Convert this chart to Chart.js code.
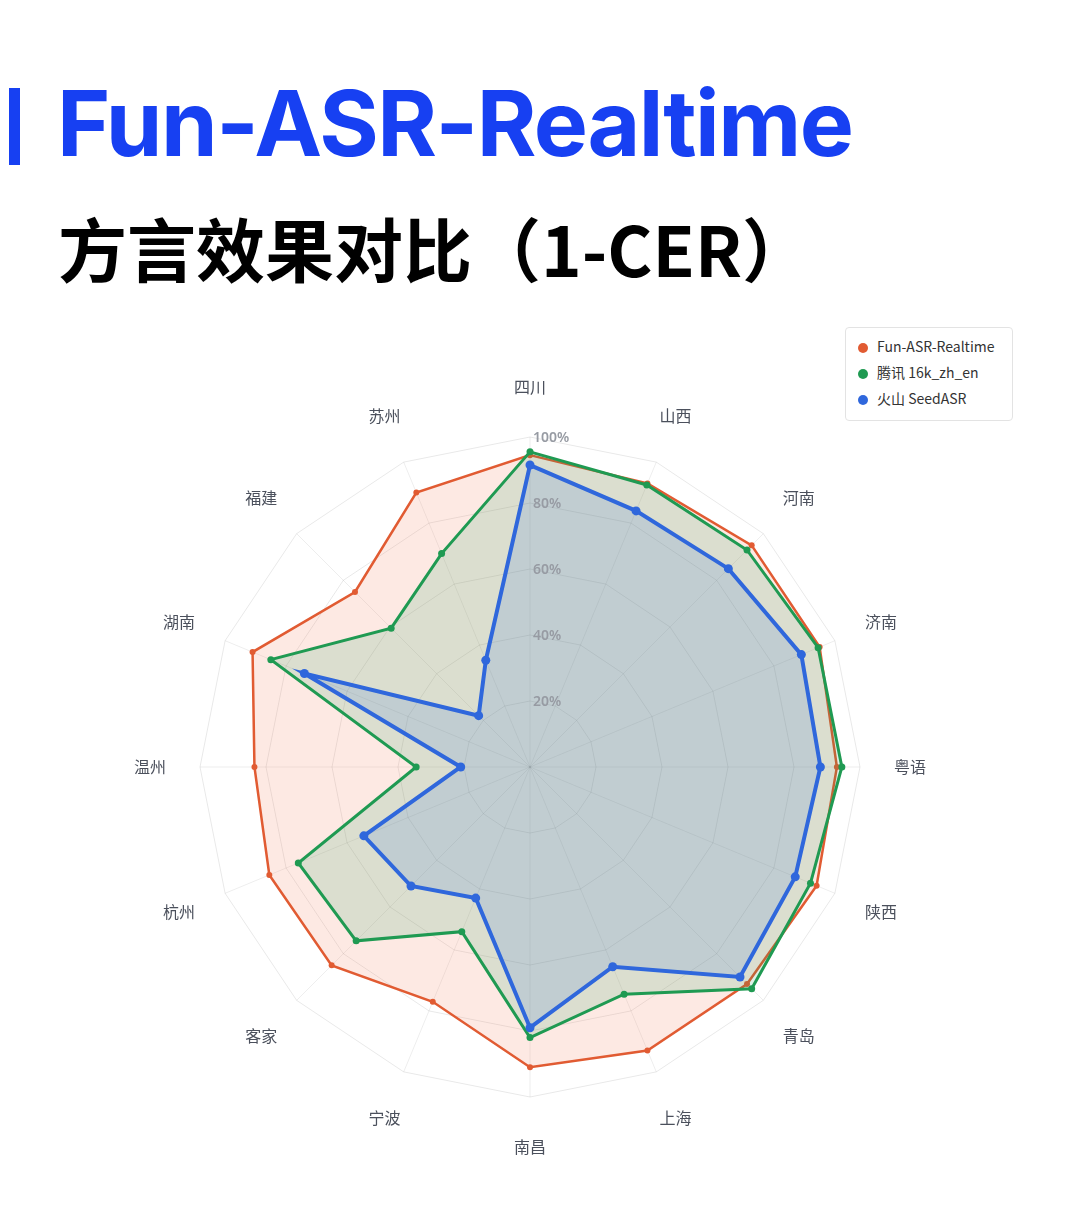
<!DOCTYPE html>
<html>
<head>
<meta charset="utf-8">
<script src="https://cdn.jsdelivr.net/npm/chart.js@4.4.1/dist/chart.umd.min.js"></script>
<style>
  html, body { margin: 0; padding: 0; background: #fff; }
  body { width: 1080px; height: 1224px; position: relative; overflow: hidden; }
  .bar { position: absolute; left: 9px; top: 88px; width: 11px; height: 77px; background: #1740f2; }
  h1 {
    position: absolute; left: 57px; top: 68px; margin: 0;
    font: 700 91px "Inter", "Liberation Sans", sans-serif; letter-spacing: -1.5px;
    color: #1740f2; white-space: nowrap;
  }
  h2 {
    position: absolute; left: 58px; top: 197px; margin: 0;
    font: 700 69px "Noto Sans CJK SC", sans-serif; color: #000; white-space: nowrap;
  }
  #wrap { position: absolute; left: 0; top: 0; width: 1080px; height: 1224px; }
  .legend {
    position: absolute; left: 845px; top: 327px; width: 168px; height: 94px;
    border: 1px solid #e3e3e3; border-radius: 4px; background: #fff; box-sizing: border-box;
    padding-top: 8px;
  }
  .legend div { height: 26px; line-height: 26px; font: 14px "Noto Sans CJK SC", "Noto Sans", sans-serif; color: #333; white-space: nowrap; }
  .legend span { display: inline-block; width: 10px; height: 10px; border-radius: 50%; margin: 0 9px 0 12px; vertical-align: -1px; }
</style>
</head>
<body>
<div class="bar"></div>
<h1>Fun-ASR-Realtime</h1>
<h2>方言效果对比（1-CER）</h2>
<div id="wrap"><canvas id="radar"></canvas></div>
<div class="legend" id="legend"></div>
<script>
// 方言区域（顺时针，从正上方开始）
const regions = ["四川", "山西", "河南", "济南", "粤语", "陕西", "青岛", "上海",
                 "南昌", "宁波", "客家", "杭州", "温州", "湖南", "福建", "苏州"];

const seriesNames = ["Fun-ASR-Realtime", "腾讯 16k_zh_en", "火山 SeedASR"];

// 1-CER (%)
const funAsr  = [94.5, 93, 95, 95, 93, 94, 93, 93, 91, 77, 85, 85.5, 83.5, 91, 75, 90];
const tencent = [95.5, 92.5, 93, 94.5, 94.5, 92, 95, 74.5, 82, 54, 74.5, 76, 34.5, 85, 59.5, 70];
const seed    = [91.5, 84, 85, 89, 88, 87, 90, 65.5, 79, 43, 51, 54.5, 21, 74, 22, 35];

const tickValues = [20, 40, 60, 80, 100];

const COLORS = {
    orange: "#e15b32",
    green: "#1f9a52",
    blue: "#2f67dc"
};

const labelPlugin = {
    id: "radarText",
    afterDatasetsDraw(chart) {
        const r = chart.scales.r;
        const ctx = chart.ctx;
        ctx.save();
        ctx.textAlign = "center";
        ctx.textBaseline = "middle";
        ctx.font = '16px "Noto Sans CJK SC"';
        ctx.fillStyle = "#4b505c";
        regions.forEach((name, i) => {
            const p = r.getPointPosition(i, r.drawingArea + 50);
            ctx.fillText(name, p.x, p.y);
        });
        ctx.textAlign = "left";
        ctx.font = '600 14px "Noto Sans", sans-serif';
        ctx.fillStyle = "#979ba3";
        tickValues.forEach(v => {
            const d = r.getDistanceFromCenterForValue(v);
            ctx.fillText(v + "%", r.xCenter + 3, r.yCenter - d + 1);
        });
        ctx.restore();
    }
};

const ctx = document.getElementById("radar").getContext("2d");

new Chart(ctx, {
    type: "radar",
    data: {
        labels: regions,
        datasets: [
            {
                label: seriesNames[0], data: funAsr, order: 3,
                borderColor: COLORS.orange, backgroundColor: "rgba(240,110,70,0.15)",
                borderWidth: 2.5, pointRadius: 3, pointBackgroundColor: COLORS.orange,
                pointBorderWidth: 0, fill: true
            },
            {
                label: seriesNames[1], data: tencent, order: 2,
                borderColor: COLORS.green, backgroundColor: "rgba(30,160,95,0.15)",
                borderWidth: 3, pointRadius: 3.5, pointBackgroundColor: COLORS.green,
                pointBorderWidth: 0, fill: true
            },
            {
                label: seriesNames[2], data: seed, order: 1,
                borderColor: COLORS.blue, backgroundColor: "rgba(50,105,220,0.15)",
                borderWidth: 4, pointRadius: 4.5, pointBackgroundColor: COLORS.blue,
                pointBorderWidth: 0, fill: true
            }
        ]
    },
    options: {
        responsive: true,
        maintainAspectRatio: false,
        animation: false,
        layout: { padding: { left: 200, right: 220, top: 437, bottom: 127 } },
        plugins: { legend: { display: false }, tooltip: { enabled: false } },
        elements: { line: { tension: 0 } },
        scales: {
            r: {
                min: 0,
                max: 100,
                ticks: { display: false, stepSize: 20 },
                pointLabels: { display: false },
                grid: { color: "rgba(0,0,0,0.09)", lineWidth: 1 },
                angleLines: { color: "rgba(0,0,0,0.07)", lineWidth: 1 }
            }
        }
    },
    plugins: [labelPlugin]
});

// 图例
const legendColors = [COLORS.orange, COLORS.green, COLORS.blue];
document.getElementById("legend").innerHTML = seriesNames
    .map((n, i) => `<div><span style="background:${legendColors[i]}"></span>${n}</div>`)
    .join("");
</script>
</body>
</html>
